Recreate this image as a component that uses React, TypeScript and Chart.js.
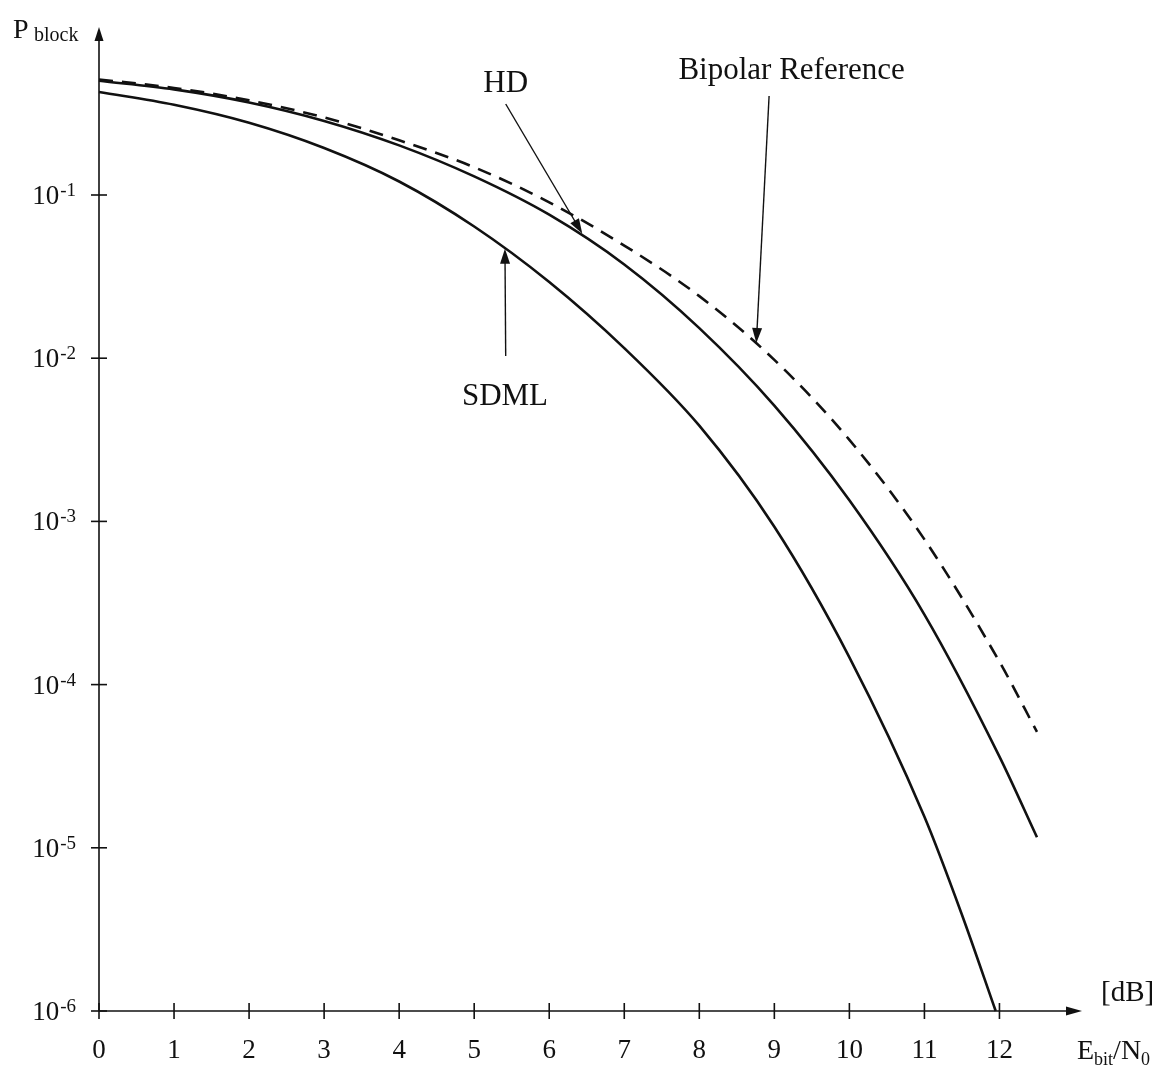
import React, { useEffect, useRef } from "react";
import { Chart, registerables } from "chart.js";

Chart.register(...registerables);

// ---- Data ----
const xTickValues = [0, 1, 2, 3, 4, 5, 6, 7, 8, 9, 10, 11, 12];
const yTickExponents = [-1, -2, -3, -4, -5, -6];

const sdmlX = [0, 1, 2, 3, 4, 5, 6, 7, 8, 9, 10, 11, 11.5, 11.95];
const sdmlY = [0.428, 0.357, 0.277, 0.194, 0.121, 0.0641, 0.0293, 0.01153, 0.00386, 9.27e-4, 1.47e-4, 1.55e-5, 3.89e-6, 1.0e-6];

const hdX = [0, 1, 2, 3, 4, 5, 6, 7, 8, 9, 10, 11, 12, 12.5];
const hdY = [0.501, 0.4436, 0.369, 0.2844, 0.2014, 0.13, 0.0757, 0.0375, 0.01528, 0.00512, 0.001346, 2.685e-4, 3.62e-5, 1.16e-5];

const bipolarX = [0, 1, 2, 3, 4, 5, 6, 7, 8, 9, 10, 11, 12, 12.5];
const bipolarY = [0.5105, 0.4529, 0.3802, 0.2985, 0.2163, 0.1479, 0.0902, 0.049, 0.024, 0.00977, 0.00316, 7.76e-4, 1.38e-4, 5.13e-5];

// annotation labels and their arrows (data coordinates)
const annotationTexts = ["HD", "Bipolar Reference", "SDML"];
const annotationTextX = [5.42, 9.23, 5.41];
const annotationTextY = [0.479, 0.575, 0.00578];
const annotationFromX = [5.42, 8.93, 5.42];
const annotationFromY = [0.361, 0.404, 0.0103];
const annotationToX = [6.44, 8.76, 5.41];
const annotationToY = [0.058, 0.0124, 0.0468];

const X_MIN = 0;
const X_MAX = 13.1;
const Y_MIN = 1e-6;
const Y_MAX = 1.07;

const FONT = '"Liberation Serif", "Times New Roman", serif';
const INK = "#111";

function toPoints(xs: number[], ys: number[]) {
  return xs.map((x, i) => ({ x, y: ys[i] }));
}

function arrowHead(ctx: CanvasRenderingContext2D, tipX: number, tipY: number, fromX: number, fromY: number, len: number, half: number) {
  const ang = Math.atan2(tipY - fromY, tipX - fromX);
  const c = Math.cos(ang);
  const s = Math.sin(ang);
  ctx.beginPath();
  ctx.moveTo(tipX, tipY);
  ctx.lineTo(tipX - len * c + half * s, tipY - len * s - half * c);
  ctx.lineTo(tipX - len * c - half * s, tipY - len * s + half * c);
  ctx.closePath();
  ctx.fill();
}

const axesPlugin = {
  id: "customAxes",
  beforeDatasetsDraw(chart: any) {
    const { ctx } = chart;
    const xs = chart.scales.x;
    const ys = chart.scales.y;
    const x0 = xs.getPixelForValue(0);
    const yB = ys.getPixelForValue(Y_MIN);
    const xR = xs.right;
    const yT = ys.top;
    ctx.save();
    ctx.strokeStyle = INK;
    ctx.fillStyle = INK;
    ctx.lineWidth = 1.6;
    // y axis
    ctx.beginPath();
    ctx.moveTo(x0, yB);
    ctx.lineTo(x0, yT + 4);
    ctx.stroke();
    arrowHead(ctx, x0, yT, x0, yB, 14, 4.5);
    // x axis
    ctx.beginPath();
    ctx.moveTo(x0, yB);
    ctx.lineTo(xR - 4, yB);
    ctx.stroke();
    arrowHead(ctx, xR, yB, x0, yB, 16, 4.5);
    // x ticks
    xTickValues.forEach((v) => {
      const px = xs.getPixelForValue(v);
      ctx.beginPath();
      ctx.moveTo(px, yB - 8);
      ctx.lineTo(px, yB + 8);
      ctx.stroke();
    });
    // y ticks
    yTickExponents.forEach((e) => {
      const py = ys.getPixelForValue(Math.pow(10, e));
      ctx.beginPath();
      ctx.moveTo(x0 - 8, py);
      ctx.lineTo(x0 + 8, py);
      ctx.stroke();
    });
    ctx.restore();
  },
  afterDatasetsDraw(chart: any) {
    const { ctx } = chart;
    const xs = chart.scales.x;
    const ys = chart.scales.y;
    const x0 = xs.getPixelForValue(0);
    const yB = ys.getPixelForValue(Y_MIN);
    ctx.save();
    ctx.fillStyle = INK;
    ctx.strokeStyle = INK;
    // x tick labels
    ctx.font = `27px ${FONT}`;
    ctx.textAlign = "center";
    ctx.textBaseline = "alphabetic";
    xTickValues.forEach((v) => {
      const px = xs.getPixelForValue(v);
      ctx.fillText(String(v), px, yB + 47);
    });
    // y tick labels 10^e
    yTickExponents.forEach((e) => {
      const py = ys.getPixelForValue(Math.pow(10, e));
      const right = x0 - 23;
      ctx.font = `19px ${FONT}`;
      const expStr = String(e);
      const ew = ctx.measureText(expStr).width;
      ctx.textAlign = "left";
      ctx.fillText(expStr, right - ew, py + 1);
      ctx.font = `27px ${FONT}`;
      const bw = ctx.measureText("10").width;
      ctx.fillText("10", right - ew - bw - 1, py + 9);
    });
    // y axis title P_block
    ctx.textAlign = "left";
    ctx.font = `28px ${FONT}`;
    ctx.fillText("P", 13, 38);
    ctx.font = `20px ${FONT}`;
    ctx.fillText("block", 34, 41);
    // x axis title
    ctx.font = `29px ${FONT}`;
    ctx.fillText("[dB]", 1101, 1001);
    ctx.font = `28px ${FONT}`;
    ctx.fillText("E", 1077, 1059);
    let cx = 1077 + ctx.measureText("E").width;
    ctx.font = `18px ${FONT}`;
    ctx.fillText("bit", cx, 1065);
    cx += ctx.measureText("bit").width;
    ctx.font = `28px ${FONT}`;
    ctx.fillText("/N", cx, 1059);
    cx += ctx.measureText("/N").width;
    ctx.font = `18px ${FONT}`;
    ctx.fillText("0", cx, 1065);

    // annotations
    annotationTexts.forEach((t, i) => {
      const tx = xs.getPixelForValue(annotationTextX[i]);
      const ty = ys.getPixelForValue(annotationTextY[i]);
      ctx.font = `31px ${FONT}`;
      ctx.textAlign = "center";
      ctx.textBaseline = "middle";
      ctx.fillText(t, tx, ty);
      const fx = xs.getPixelForValue(annotationFromX[i]);
      const fy = ys.getPixelForValue(annotationFromY[i]);
      const px = xs.getPixelForValue(annotationToX[i]);
      const py = ys.getPixelForValue(annotationToY[i]);
      ctx.lineWidth = 1.4;
      ctx.beginPath();
      ctx.moveTo(fx, fy);
      const ang = Math.atan2(py - fy, px - fx);
      ctx.lineTo(px - 10 * Math.cos(ang), py - 10 * Math.sin(ang));
      ctx.stroke();
      arrowHead(ctx, px, py, fx, fy, 15, 5);
    });
    ctx.restore();
  },
};

export default function App() {
  const canvasRef = useRef<HTMLCanvasElement | null>(null);

  useEffect(() => {
    const canvas = canvasRef.current;
    if (!canvas) return;
    const lineStyle = {
      borderColor: INK,
      borderWidth: 2.6,
      pointRadius: 0,
      cubicInterpolationMode: "monotone",
      fill: false,
      clip: false,
    };
    const chart = new Chart(canvas, {
      type: "line",
      data: {
        datasets: [
          { label: "SDML", data: toPoints(sdmlX, sdmlY), ...lineStyle },
          { label: "HD", data: toPoints(hdX, hdY), ...lineStyle },
          { label: "Bipolar Reference", data: toPoints(bipolarX, bipolarY), ...lineStyle, borderDash: [14, 9] },
        ],
      } as any,
      options: {
        animation: false,
        responsive: false,
        maintainAspectRatio: false,
        layout: { padding: { left: 99, right: 82, top: 27, bottom: 61 } },
        plugins: {
          legend: { display: false },
          tooltip: { enabled: false },
          title: { display: false },
        },
        scales: {
          x: { type: "linear", min: X_MIN, max: X_MAX, display: false },
          y: { type: "logarithmic", min: Y_MIN, max: Y_MAX, display: false },
        },
      } as any,
      plugins: [axesPlugin],
    });
    return () => chart.destroy();
  }, []);

  return (
    <div style={{ position: "absolute", left: 0, top: 0, width: 1164, height: 1072, background: "#fff" }}>
      <canvas ref={canvasRef} width={1164} height={1072} style={{ display: "block", width: 1164, height: 1072 }} />
    </div>
  );
}
